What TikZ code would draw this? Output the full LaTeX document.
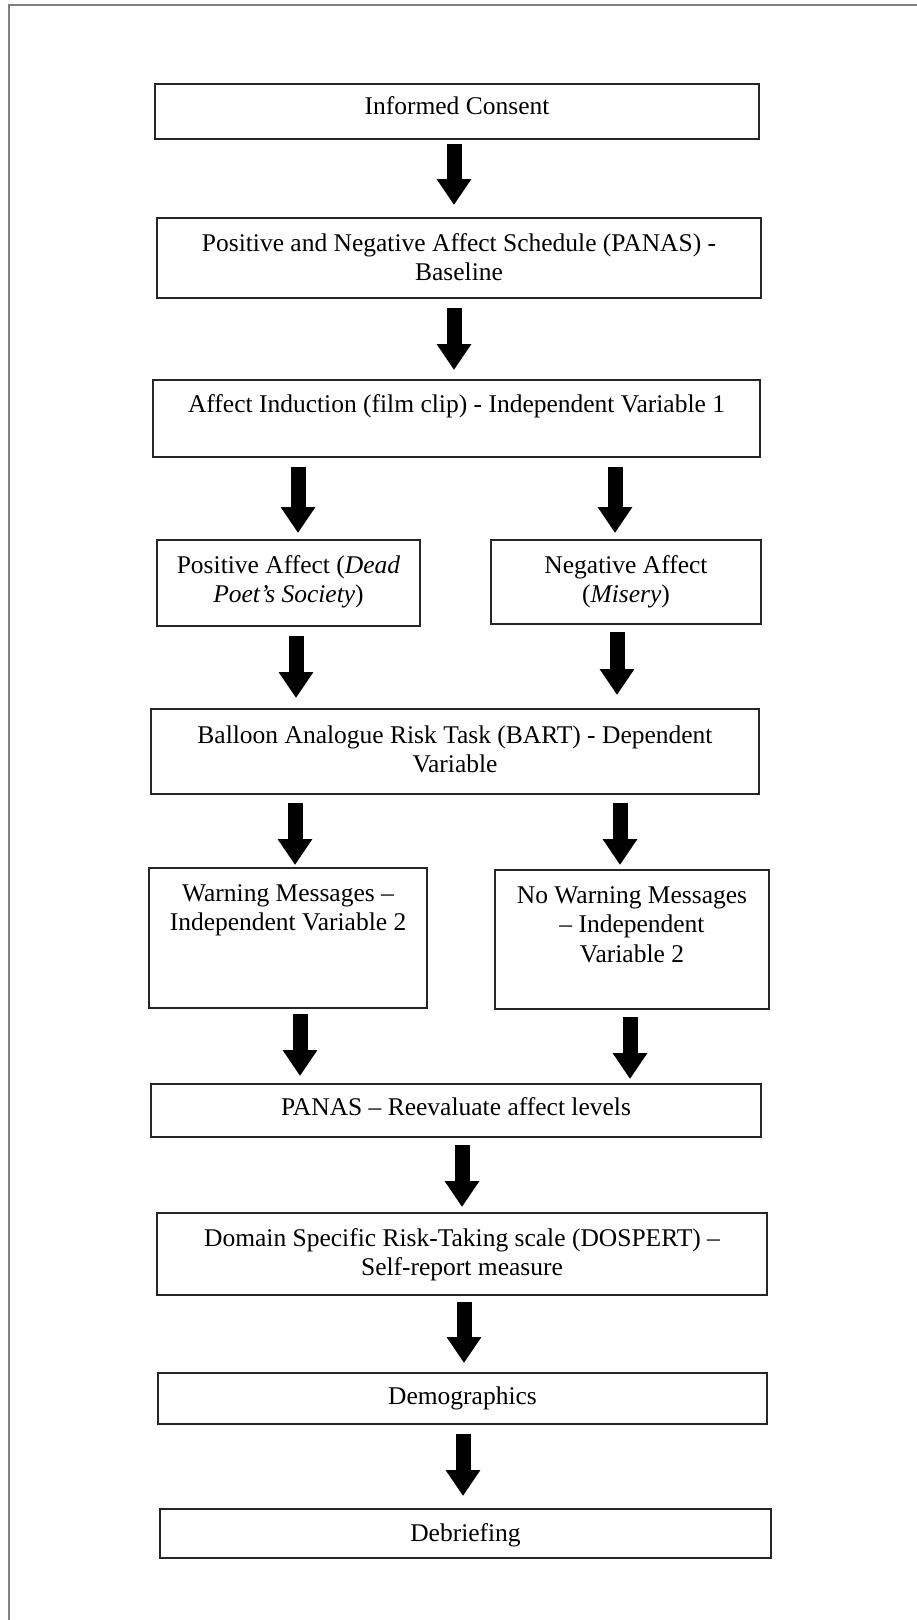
\documentclass[tikz,border=0pt]{standalone}
\usepackage{fontspec}
\setmainfont{Liberation Serif}
\usetikzlibrary{arrows.meta,calc}
\definecolor{framec}{HTML}{808080}
\begin{document}
\begin{tikzpicture}[x=1pt,y=-1pt,
  boxst/.style={draw=black!85, line width=1.8pt, rectangle, inner sep=0pt, outer sep=0pt, anchor=north west},
  txt/.style={font=\fontsize{25.5}{29.5}\selectfont, align=center, inner sep=0pt, anchor=base},
  fatarrow/.style={line width=15pt, -{Triangle[width=33pt,length=26pt]}},
]
\useasboundingbox (0,0) rectangle (916,1620);
\draw[draw=framec, line width=2pt] (9,1640) -- (9,5) -- (940,5);

% boxes
\node[boxst, minimum width=604pt, minimum height=55pt] (b1) at (155,84) {};
\node[boxst, minimum width=604pt, minimum height=80pt] (b2) at (157,218) {};
\node[boxst, minimum width=607pt, minimum height=77pt] (b3) at (153,380) {};
\node[boxst, minimum width=263pt, minimum height=86pt] (pos) at (157,540) {};
\node[boxst, minimum width=270pt, minimum height=84pt] (neg) at (491,540) {};
\node[boxst, minimum width=608pt, minimum height=85pt] (bart) at (151,709) {};
\node[boxst, minimum width=278pt, minimum height=140pt] (warn) at (149,868) {};
\node[boxst, minimum width=274pt, minimum height=139pt] (nowarn) at (495,870) {};
\node[boxst, minimum width=610pt, minimum height=53pt] (pan2) at (151,1084) {};
\node[boxst, minimum width=610pt, minimum height=82pt] (dosp) at (157,1213) {};
\node[boxst, minimum width=609pt, minimum height=51pt] (demo) at (158,1373) {};
\node[boxst, minimum width=611pt, minimum height=49pt] (debr) at (160,1509) {};

% texts (anchor=base is the baseline of the last line)
\node[txt] (t1) at ($(b1.north)+(0,30)$) {Informed Consent};
\node[txt] (t2) at ($(b2.north)+(0,62.5)$) {Positive and Negative Affect Schedule (PANAS) -\\Baseline};
\node[txt] (t3) at ($(b3.north)+(0,32)$) {Affect Induction (film clip) - Independent Variable 1};
\node[txt] (tpos) at ($(pos.north)+(0,62.5)$) {Positive Affect (\textit{Dead}\\\textit{Poet’s Society})};
\node[txt] (tneg) at ($(neg.north)+(0,62.5)$) {Negative Affect\\(\textit{Misery})};
\node[txt] (tbart) at ($(bart.north)+(0,63.5)$) {Balloon Analogue Risk Task (BART) - Dependent\\Variable};
\node[txt] (twarn) at ($(warn.north)+(0,62.5)$) {Warning Messages –\\Independent Variable 2};
\node[txt] (tnowarn) at ($(nowarn.north)+(0,92)$) {No Warning Messages\\– Independent\\Variable 2};
\node[txt] (tpan2) at ($(pan2.north)+(0,31)$) {PANAS – Reevaluate affect levels};
\node[txt] (tdosp) at ($(dosp.north)+(0,62.5)$) {Domain Specific Risk-Taking scale (DOSPERT) –\\Self-report measure};
\node[txt] (tdemo) at ($(demo.north)+(0,31)$) {Demographics};
\node[txt] (tdebr) at ($(debr.north)+(0,32)$) {Debriefing};

% arrow x positions
\coordinate (xa1) at (454,0);
\coordinate (xa2) at (454,0);
\coordinate (xl3) at (298,0);
\coordinate (xr3) at (615,0);
\coordinate (xl4) at (296,0);
\coordinate (xr4) at (617,0);
\coordinate (xl5) at (295,0);
\coordinate (xr5) at (620,0);
\coordinate (xl6) at (300,0);
\coordinate (xr6) at (630,0);
\coordinate (xa7) at (462,0);
\coordinate (xa8) at (464,0);
\coordinate (xa9) at (463,0);

% arrows
\draw[fatarrow] ($(b1.south -| xa1)+(0,5)$) -- ($(b2.north -| xa1)+(0,-13)$);
\draw[fatarrow] ($(b2.south -| xa2)+(0,10)$) -- ($(b3.north -| xa2)+(0,-10)$);
\draw[fatarrow] ($(b3.south -| xl3)+(0,10)$) -- ($(pos.north -| xl3)+(0,-7)$);
\draw[fatarrow] ($(b3.south -| xr3)+(0,10)$) -- ($(neg.north -| xr3)+(0,-7)$);
\draw[fatarrow] ($(pos.south -| xl4)+(0,10)$) -- ($(bart.north -| xl4)+(0,-11)$);
\draw[fatarrow] ($(neg.south -| xr4)+(0,8)$) -- ($(bart.north -| xr4)+(0,-14)$);
\draw[fatarrow] ($(bart.south -| xl5)+(0,9)$) -- ($(warn.north -| xl5)+(0,-3)$);
\draw[fatarrow] ($(bart.south -| xr5)+(0,9)$) -- ($(nowarn.north -| xr5)+(0,-5)$);
\draw[fatarrow] ($(warn.south -| xl6)+(0,6)$) -- ($(pan2.north -| xl6)+(0,-8)$);
\draw[fatarrow] ($(nowarn.south -| xr6)+(0,8)$) -- ($(pan2.north -| xr6)+(0,-5)$);
\draw[fatarrow] ($(pan2.south -| xa7)+(0,8)$) -- ($(dosp.north -| xa7)+(0,-6)$);
\draw[fatarrow] ($(dosp.south -| xa8)+(0,7)$) -- ($(demo.north -| xa8)+(0,-10)$);
\draw[fatarrow] ($(demo.south -| xa9)+(0,10)$) -- ($(debr.north -| xa9)+(0,-13)$);
\end{tikzpicture}
\end{document}
